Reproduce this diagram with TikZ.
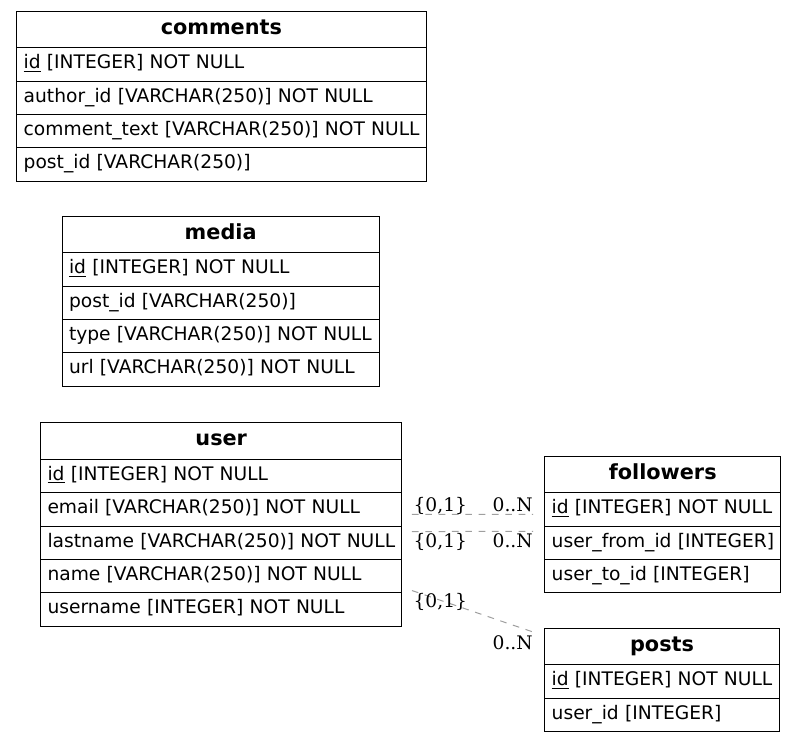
\documentclass[tikz,border=0pt]{standalone}
\usepackage{fontspec}
\setmainfont{DejaVu Sans}
\newfontfamily\cardfont{DejaVu Serif}
\usetikzlibrary{positioning}

\begin{document}
\begin{tikzpicture}[x=0.75pt,y=-0.75pt,font=\fontsize{14}{17}\selectfont]
    \tikzstyle{head}=[rectangle,draw,line width=0.75pt,anchor=north west,outer sep=0pt,inner xsep=5.25pt,inner ysep=0pt,text height=17.25pt,text depth=10.25pt,align=center,font=\fontsize{15.6}{18}\selectfont\bfseries]
    \tikzstyle{field}=[rectangle,draw,line width=0.75pt,outer sep=0pt,inner xsep=5.25pt,inner ysep=0pt,text height=15.75pt,text depth=9.25pt,align=left,execute at begin node=\hbox\bgroup,execute at end node=\egroup]
    \tikzstyle{rel}=[gray!75,line width=0.75pt,dash pattern=on 5pt off 5pt]
    \tikzstyle{card}=[inner sep=0pt,font=\fontsize{14}{17}\selectfont\cardfont]
    \useasboundingbox (0,0) rectangle (796,743);
    % comments
    \node (com0) at (16.7,11) [head,text width=296.5pt] {comments};
    \node (com1) [field,text width=296.5pt,below=0pt of com0] {\underline{id} [INTEGER] NOT NULL};
    \node (com2) [field,text width=296.5pt,below=0pt of com1] {author\_id [VARCHAR(250)] NOT NULL};
    \node (com3) [field,text width=296.5pt,below=0pt of com2] {comment\_text [VARCHAR(250)] NOT NULL};
    \node (com4) [field,text width=296.5pt,below=0pt of com3] {post\_id [VARCHAR(250)]};
    % media
    \node (med0) at (62,216) [head,text width=227.5pt] {media};
    \node (med1) [field,text width=227.5pt,below=0pt of med0] {\underline{id} [INTEGER] NOT NULL};
    \node (med2) [field,text width=227.5pt,below=0pt of med1] {post\_id [VARCHAR(250)]};
    \node (med3) [field,text width=227.5pt,below=0pt of med2] {type [VARCHAR(250)] NOT NULL};
    \node (med4) [field,text width=227.5pt,below=0pt of med3] {url [VARCHAR(250)] NOT NULL};
    % user
    \node (usr0) at (40.5,422.7) [head,text width=260.6pt] {user};
    \node (usr1) [field,text width=260.6pt,below=0pt of usr0] {\underline{id} [INTEGER] NOT NULL};
    \node (usr2) [field,text width=260.6pt,below=0pt of usr1] {email [VARCHAR(250)] NOT NULL};
    \node (usr3) [field,text width=260.6pt,below=0pt of usr2] {lastname [VARCHAR(250)] NOT NULL};
    \node (usr4) [field,text width=260.6pt,below=0pt of usr3] {name [VARCHAR(250)] NOT NULL};
    \node (usr5) [field,text width=260.6pt,below=0pt of usr4] {username [INTEGER] NOT NULL};
    % followers
    \node (fol0) at (544.7,456) [head,text width=166.5pt] {followers};
    \node (fol1) [field,text width=166.5pt,below=0pt of fol0] {\underline{id} [INTEGER] NOT NULL};
    \node (fol2) [field,text width=166.5pt,below=0pt of fol1] {user\_from\_id [INTEGER]};
    \node (fol3) [field,text width=166.5pt,below=0pt of fol2] {user\_to\_id [INTEGER]};
    % posts
    \node (pst0) at (544.7,628.3) [head,text width=165.5pt] {posts};
    \node (pst1) [field,text width=165.5pt,below=0pt of pst0] {\underline{id} [INTEGER] NOT NULL};
    \node (pst2) [field,text width=165.5pt,below=0pt of pst1] {user\_id [INTEGER]};
    % relations
    \coordinate (e1s) at ([shift={(10,5)}]usr2.east);
    \coordinate (e1t) at ([shift={(-11.7,5)}]fol1.west);
    \coordinate (e2s) at ([shift={(10,-11.2)}]usr3.east);
    \coordinate (e2t) at ([shift={(-11.7,-11.2)}]fol2.west);
    \coordinate (e3s) at ([shift={(10,14.5)}]usr4.east);
    \coordinate (e3t) at ([shift={(-11.7,-14.65)}]pst0.west);
    \draw [rel] (e1s) -- (e1t);
    \draw [rel] (e2s) -- (e2t);
    \draw [rel] (e3s) -- (e3t);
    \node (c1a) at (413.3,511.3) [card,anchor=base west] {\{0,1\}};
    \node (c1b) at (533,511.3) [card,anchor=base east] {0..N};
    \node (c2a) at (413.3,547.5) [card,anchor=base west] {\{0,1\}};
    \node (c2b) at (533,547.5) [card,anchor=base east] {0..N};
    \node (c3a) at (413.3,607) [card,anchor=base west] {\{0,1\}};
    \node (c3b) at (533,649.3) [card,anchor=base east] {0..N};
\end{tikzpicture}
\end{document}
